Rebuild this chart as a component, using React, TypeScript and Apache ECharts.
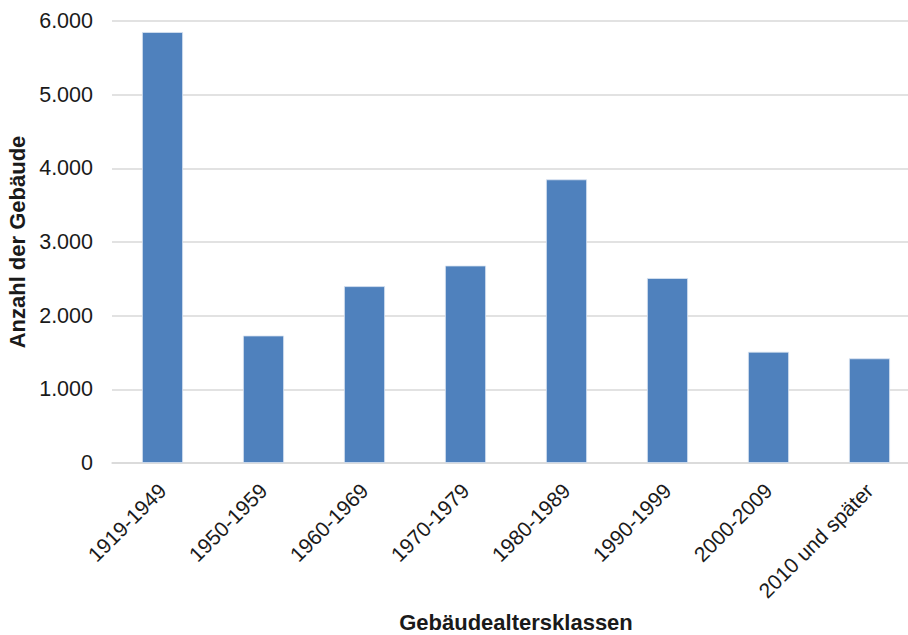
import React, { useEffect, useRef } from "react";
import * as echarts from "echarts";

const categories = [
  "1919-1949",
  "1950-1959",
  "1960-1969",
  "1970-1979",
  "1980-1989",
  "1990-1999",
  "2000-2009",
  "2010 und später",
];
const buildingCounts = [5850, 1730, 2400, 2680, 3850, 2510, 1510, 1420];
const yTitle = "Anzahl der Gebäude";
const xTitle = "Gebäudealtersklassen";

const fmt = (v: number) => String(v).replace(/\B(?=(\d{3})+(?!\d))/g, ".");

export default function App() {
  const ref = useRef<HTMLDivElement>(null);
  useEffect(() => {
    document.body.style.margin = "0";
    const chart = echarts.init(ref.current!, null, { renderer: "svg" });
    const font = "Arial, 'Liberation Sans', sans-serif";
    chart.setOption({
      animation: false,
      textStyle: { fontFamily: font },
      grid: { left: 112, top: 21, width: 808, height: 442, outerBoundsMode: "none", containLabel: false },
      xAxis: {
        type: "category",
        data: categories,
        axisLine: { lineStyle: { color: "#d9d9d9", width: 1.5 } },
        axisTick: { show: false },
        axisLabel: {
          rotate: 45,
          interval: 0,
          margin: 24,
          fontSize: 21,
          color: "#1a1a1a",
          fontFamily: font,
        },
        name: xTitle,
        nameLocation: "middle",
        nameGap: 148,
        nameTextStyle: { fontSize: 22, fontWeight: "bold", color: "#1a1a1a", fontFamily: font },
      },
      yAxis: {
        type: "value",
        min: 0,
        max: 6000,
        interval: 1000,
        axisLine: { show: false },
        axisTick: { show: false },
        splitLine: { lineStyle: { color: "#d9d9d9", width: 1.5 } },
        axisLabel: {
          formatter: (v: number) => fmt(v),
          fontSize: 21.5,
          margin: 19,
          color: "#1a1a1a",
          fontFamily: font,
        },
        name: yTitle,
        nameLocation: "middle",
        nameGap: 79,
        nameTextStyle: { fontSize: 22, fontWeight: "bold", color: "#1a1a1a", fontFamily: font },
      },
      series: [
        {
          type: "bar",
          data: buildingCounts,
          barWidth: 41,
          itemStyle: { color: "#4f81bd", borderColor: "#dbe5f1", borderWidth: 0.8 },
        },
      ],
    });
    return () => chart.dispose();
  }, []);
  return <div ref={ref} style={{ width: 908, height: 635 }} />;
}
